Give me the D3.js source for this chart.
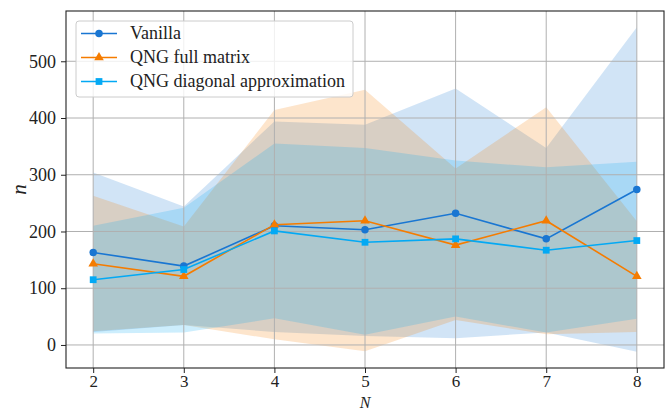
<!DOCTYPE html>
<html>
<head>
<meta charset="utf-8">
<script src="https://cdn.jsdelivr.net/npm/d3@7"></script>
<style>
  body { margin: 0; background: #fff; }
  text { font-family: "Liberation Serif", "DejaVu Serif", serif; fill: #222; }
</style>
</head>
<body>
<script>
// values
const Ns = [2, 3, 4, 5, 6, 7, 8];

const vanillaMean = [163, 139, 210, 203, 232, 187, 274];
const vanillaUpper = [304, 244, 394, 388, 452, 347, 560];
const vanillaLower = [23, 35, 23, 16, 12, 22, -12];

const fullMean = [143, 121, 212, 219, 176, 219, 121];
const fullUpper = [263, 209, 414, 450, 311, 419, 218];
const fullLower = [24, 35, 10, -11, 44, 19, 23];

const diagMean = [115, 133, 201, 181, 187, 167, 184];
const diagUpper = [210, 242, 355, 347, 325, 313, 323];
const diagLower = [20, 22, 47, 18, 50, 22, 46];

const yTicks = [0, 100, 200, 300, 400, 500];
const seriesNames = ["Vanilla", "QNG full matrix", "QNG diagonal approximation"];

const width = 668;
const height = 412;
const margin = { top: 11, right: 4, bottom: 44, left: 66 };

const series = [
  { name: seriesNames[0], mean: vanillaMean, upper: vanillaUpper, lower: vanillaLower, color: "#1976D2", marker: d3.symbolCircle, size: 44 },
  { name: seriesNames[1], mean: fullMean, upper: fullUpper, lower: fullLower, color: "#F57C00", marker: d3.symbolTriangle, size: 40 },
  { name: seriesNames[2], mean: diagMean, upper: diagUpper, lower: diagLower, color: "#03A9F4", marker: d3.symbolSquare, size: 46 },
];

const svg = d3.select("body").append("svg")
  .attr("width", width)
  .attr("height", height);

const x = d3.scaleLinear()
  .domain([1.7, 8.3])
  .range([margin.left, width - margin.right]);

// matplotlib style 5% padding around the data extent
const allVals = series.flatMap((s) => s.upper.concat(s.lower));
const [ymin, ymax] = d3.extent(allVals);
const pad = (ymax - ymin) * 0.05;
const y = d3.scaleLinear()
  .domain([ymin - pad, ymax + pad])
  .range([height - margin.bottom, margin.top]);

svg.append("clipPath").attr("id", "clip")
  .append("rect")
  .attr("x", margin.left).attr("y", margin.top)
  .attr("width", width - margin.left - margin.right)
  .attr("height", height - margin.top - margin.bottom);

const plot = svg.append("g").attr("clip-path", "url(#clip)");

// bands
const area = d3.area()
  .x((d) => x(d.n))
  .y0((d) => y(d.lo))
  .y1((d) => y(d.hi));

series.forEach((s) => {
  const pts = Ns.map((n, i) => ({ n: n, lo: s.lower[i], hi: s.upper[i] }));
  plot.append("path")
    .datum(pts)
    .attr("d", area)
    .attr("fill", s.color)
    .attr("fill-opacity", 0.2);
});

// grid
plot.selectAll(".gx")
  .data(Ns)
  .enter()
  .append("line")
  .attr("x1", (d) => x(d)).attr("x2", (d) => x(d))
  .attr("y1", margin.top).attr("y2", height - margin.bottom)
  .attr("stroke", "#b0b0b0")
  .attr("stroke-width", 1);

plot.selectAll(".gy")
  .data(yTicks)
  .enter()
  .append("line")
  .attr("x1", margin.left).attr("x2", width - margin.right)
  .attr("y1", (d) => y(d)).attr("y2", (d) => y(d))
  .attr("stroke", "#b0b0b0")
  .attr("stroke-width", 1);

// lines and markers
const line = d3.line()
  .x((d, i) => x(Ns[i]))
  .y((d) => y(d));

series.forEach((s) => {
  plot.append("path")
    .datum(s.mean)
    .attr("d", line)
    .attr("fill", "none")
    .attr("stroke", s.color)
    .attr("stroke-width", 1.6);
  plot.selectAll(null)
    .data(s.mean)
    .enter()
    .append("path")
    .attr("d", d3.symbol().type(s.marker).size(s.size))
    .attr("transform", (d, i) => `translate(${x(Ns[i])},${y(d)})`)
    .attr("fill", s.color);
});

// axes
const xAxis = svg.append("g")
  .attr("transform", `translate(0,${height - margin.bottom})`)
  .call(d3.axisBottom(x).tickValues(Ns).tickSize(5).tickPadding(2).tickFormat(d3.format("d")));
const yAxis = svg.append("g")
  .attr("transform", `translate(${margin.left},0)`)
  .call(d3.axisLeft(y).tickValues(yTicks).tickSize(5).tickPadding(5).tickFormat(d3.format("d")));

[xAxis, yAxis].forEach((g) => {
  g.select(".domain").remove();
  g.selectAll("line").attr("stroke", "#222").attr("stroke-width", 1);
  g.selectAll("text")
    .attr("font-size", 18)
    .attr("fill", "#222");
});
xAxis.selectAll("text").attr("font-size", 17);

svg.append("rect")
  .attr("x", margin.left).attr("y", margin.top)
  .attr("width", width - margin.left - margin.right)
  .attr("height", height - margin.top - margin.bottom)
  .attr("fill", "none")
  .attr("stroke", "#222")
  .attr("stroke-width", 1.1);

// axis labels
svg.append("text")
  .attr("x", (margin.left + width - margin.right) / 2)
  .attr("y", 408)
  .attr("text-anchor", "middle")
  .attr("font-style", "italic")
  .attr("font-size", 16)
  .text("N");

svg.append("text")
  .attr("transform", `translate(26,${(margin.top + height - margin.bottom) / 2}) rotate(-90)`)
  .attr("text-anchor", "middle")
  .attr("font-style", "italic")
  .attr("font-size", 21)
  .text("n");

// legend
const legend = svg.append("g");
legend.append("rect")
  .attr("x", 76).attr("y", 21)
  .attr("width", 277).attr("height", 76)
  .attr("rx", 3)
  .attr("fill", "#fff")
  .attr("fill-opacity", 0.8)
  .attr("stroke", "#cccccc")
  .attr("stroke-width", 1);

const rows = legend.selectAll(".row")
  .data(series)
  .enter()
  .append("g")
  .attr("transform", (d, i) => `translate(0,${33.5 + i * 24})`);

rows.append("line")
  .attr("x1", 81).attr("x2", 117)
  .attr("stroke", (d) => d.color)
  .attr("stroke-width", 1.6);
rows.append("path")
  .attr("d", (d) => d3.symbol().type(d.marker).size(d.size)())
  .attr("transform", "translate(99,0)")
  .attr("fill", (d) => d.color);
rows.append("text")
  .attr("x", 130)
  .attr("dy", "0.33em")
  .attr("font-size", 18)
  .text((d) => d.name);
</script>
</body>
</html>
